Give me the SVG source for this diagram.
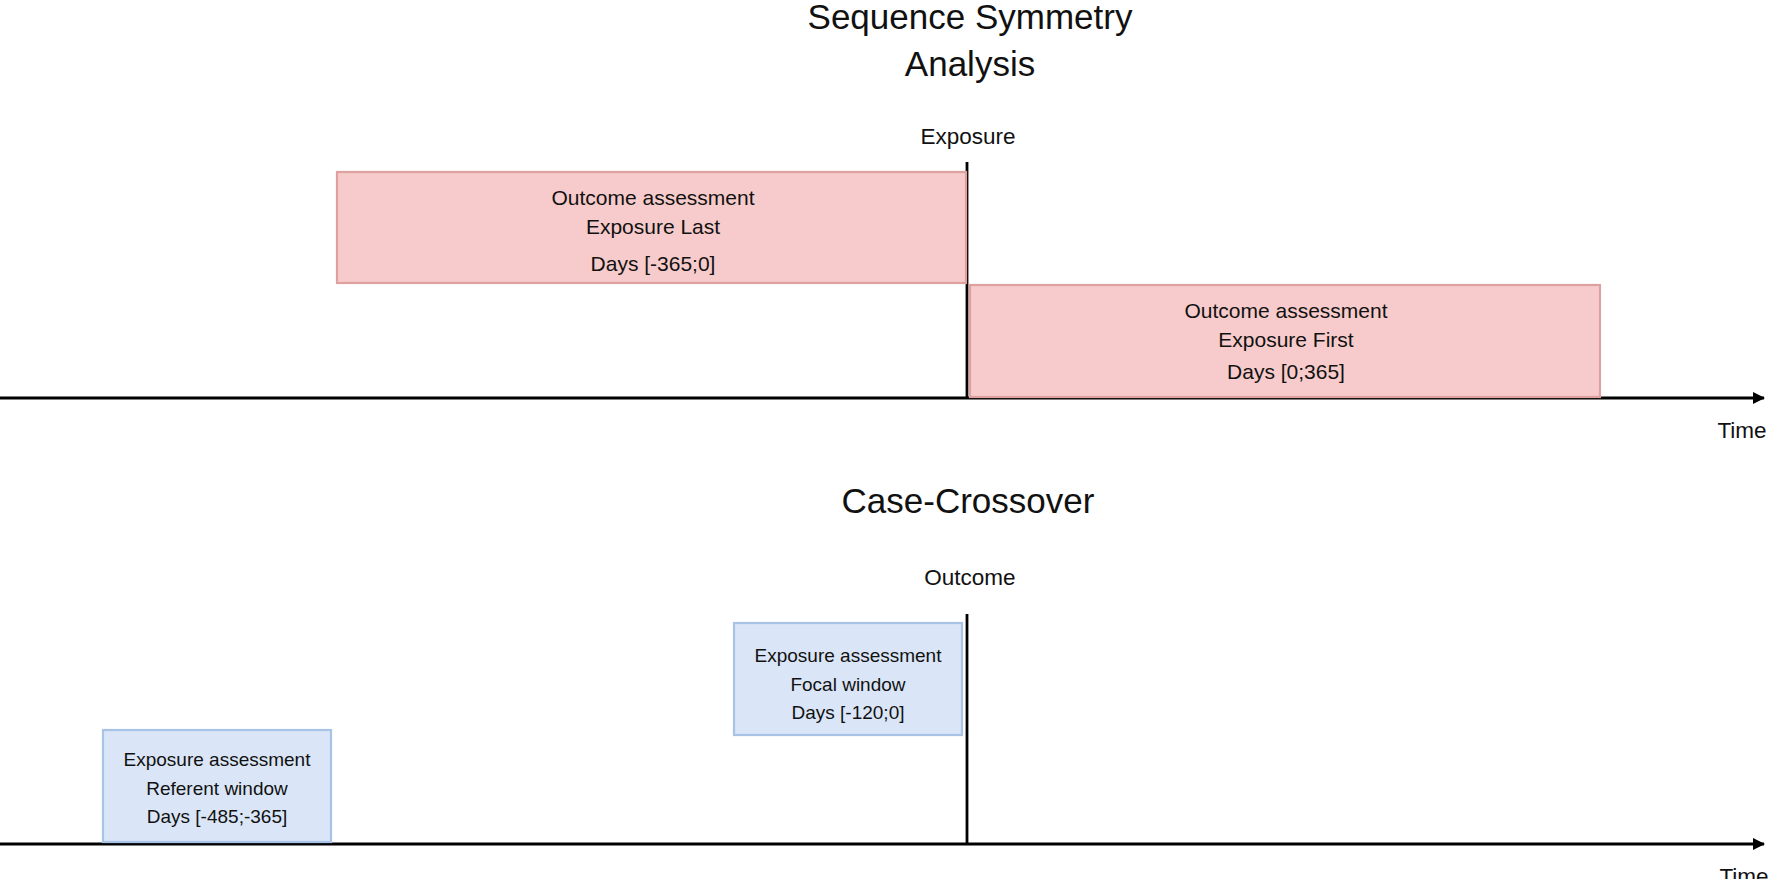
<svg xmlns="http://www.w3.org/2000/svg" width="1770" height="879" viewBox="0 0 1770 879">
<style>
text{font-family:"Liberation Sans",Arial,sans-serif;fill:#111;text-anchor:middle}
.t{font-size:35px}.l{font-size:22.5px}.s{font-size:21px}.b{font-size:19px}
.red{fill:#f7cbcb;stroke:#dfa0a0;stroke-width:2.2}
.blue{fill:#dae6f7;stroke:#a9c3e6;stroke-width:2.2}
.ln{stroke:#000;stroke-width:2.8;fill:none}
</style>
<defs><marker id="ah" markerWidth="12" markerHeight="12" refX="11" refY="6" orient="auto" markerUnits="userSpaceOnUse"><path d="M0,0L12,6L0,12z" fill="#000"/></marker></defs>
<g id="titles">
<text class="t" x="970" y="29">Sequence Symmetry</text>
<text class="t" x="970" y="76">Analysis</text>
<text class="l" x="968" y="144">Exposure</text>
<text class="l" x="1742" y="438">Time</text>
<text class="t" x="968" y="513">Case-Crossover</text>
<text class="l" x="970" y="585">Outcome</text>
<text class="l" x="1744" y="884">Time</text>
</g>
<g id="connectors">
<line class="ln" x1="0" y1="398" x2="1764" y2="398" marker-end="url(#ah)"/>
<line class="ln" x1="967" y1="162" x2="967" y2="398"/>
<line class="ln" x1="0" y1="844" x2="1764" y2="844" marker-end="url(#ah)"/>
<line class="ln" x1="967" y1="614" x2="967" y2="844"/>
</g>
<g id="box-last"><rect class="red" x="337" y="172" width="629" height="111"/>
<text class="s" x="653" y="205">Outcome assessment</text><text class="s" x="653" y="234">Exposure Last</text><text class="s" x="653" y="271">Days [-365;0]</text></g>
<g id="box-first"><rect class="red" x="970" y="285" width="630" height="112"/>
<text class="s" x="1286" y="318">Outcome assessment</text><text class="s" x="1286" y="347">Exposure First</text><text class="s" x="1286" y="379">Days [0;365]</text></g>
<g id="box-focal"><rect class="blue" x="734" y="623" width="228" height="112"/>
<text class="b" x="848" y="662">Exposure assessment</text><text class="b" x="848" y="691">Focal window</text><text class="b" x="848" y="719">Days [-120;0]</text></g>
<g id="box-referent"><rect class="blue" x="103" y="730" width="228" height="112"/>
<text class="b" x="217" y="766">Exposure assessment</text><text class="b" x="217" y="795">Referent window</text><text class="b" x="217" y="823">Days [-485;-365]</text></g>
</svg>
